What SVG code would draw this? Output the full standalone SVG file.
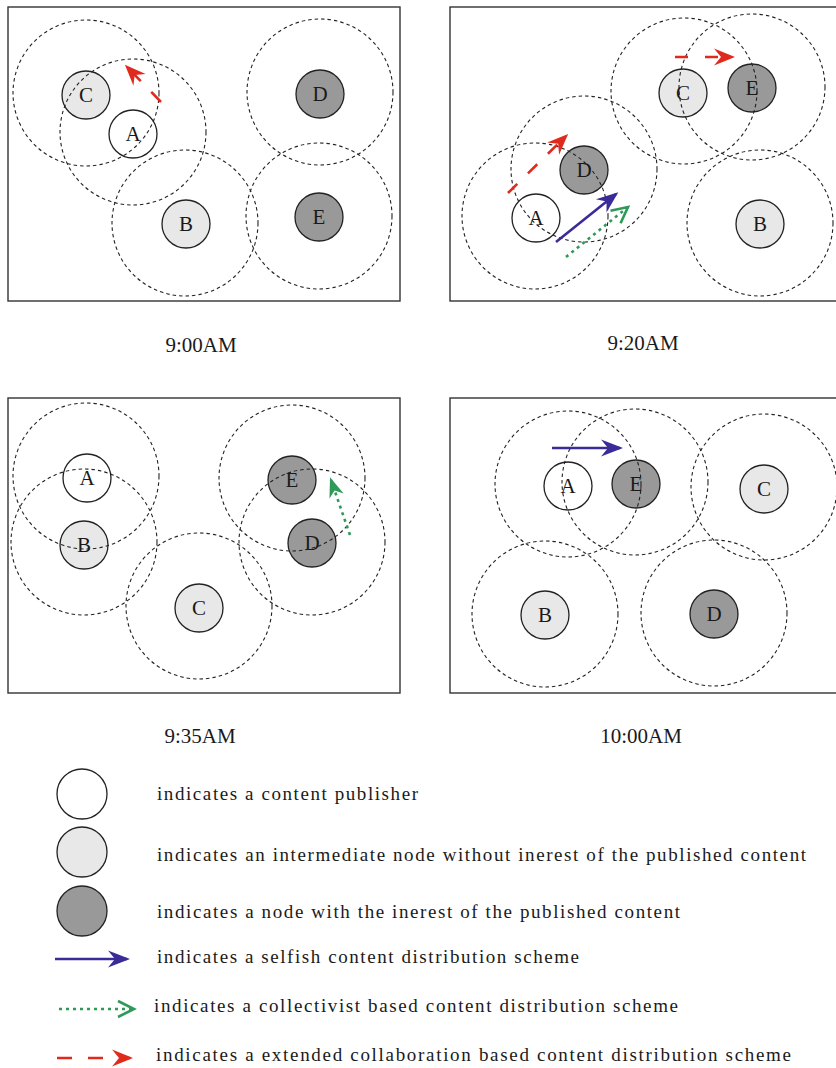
<svg xmlns="http://www.w3.org/2000/svg" width="836" height="1068" viewBox="0 0 836 1068">
  <style>
    .frame { fill: none; stroke: #333; stroke-width: 1.4; }
    .node { stroke: #222; stroke-width: 1.3; }
    .pub { fill: #ffffff; }
    .mid { fill: #e8e8e8; }
    .int { fill: #999999; }
    .range { fill: none; stroke: #222; stroke-width: 1.1; stroke-dasharray: 3.5 3; }
    .lbl { font-family: "Liberation Serif", "Times New Roman", serif; font-size: 21px; fill: #1a1a1a; text-anchor: middle; }
    .time { font-family: "Liberation Serif", "Times New Roman", serif; font-size: 21px; fill: #1a1a1a; text-anchor: middle; }
    .leg { font-family: "Liberation Serif", "Times New Roman", serif; font-size: 19px; fill: #1a1a1a; }
    .selfish { stroke: #3a2c98; stroke-width: 2.6; fill: none; }
    .collect { stroke: #2f9a58; stroke-width: 2.6; fill: none; stroke-dasharray: 3 4; }
    .extend { stroke: #e02a1e; stroke-width: 2.6; fill: none; }
  </style>
  <defs>
    <marker id="head-blue" markerUnits="userSpaceOnUse" orient="auto" refX="0" refY="0" markerWidth="30" markerHeight="30" overflow="visible">
      <path d="M3,0 L-19,-8.5 L-12,0 L-19,8.5 Z" fill="#3a2c98"/>
    </marker>
    <marker id="head-red" markerUnits="userSpaceOnUse" orient="auto" refX="0" refY="0" markerWidth="30" markerHeight="30" overflow="visible">
      <path d="M3,0 L-18,-8.5 L-11,0 L-18,8.5 Z" fill="#e02a1e"/>
    </marker>
    <marker id="head-green" markerUnits="userSpaceOnUse" orient="auto" refX="0" refY="0" markerWidth="30" markerHeight="30" overflow="visible">
      <polyline points="-16,-8 0,0 -16,8" fill="none" stroke="#2f9a58" stroke-width="2.6" stroke-dasharray="none"/>
    </marker>
    <marker id="head-green-solid" markerUnits="userSpaceOnUse" orient="auto" refX="0" refY="0" markerWidth="30" markerHeight="30" overflow="visible">
      <path d="M3,0 L-17,-7.5 L-11,0 L-17,7.5 Z" fill="#2f9a58"/>
    </marker>
  </defs>

  <rect width="836" height="1068" fill="#ffffff"/>

  <!-- ===== 9:00AM ===== -->
  <g id="panel-0900">
    <rect class="frame" x="8" y="7" width="392" height="294"/>
    <g id="p1-C"><circle class="node mid" cx="86" cy="95" r="24"/><text class="lbl" x="86" y="102">C</text></g>
    <g id="p1-A"><circle class="node pub" cx="133" cy="134" r="24"/><text class="lbl" x="133" y="141">A</text></g>
    <g id="p1-B"><circle class="node mid" cx="186" cy="224" r="24"/><text class="lbl" x="186" y="231">B</text></g>
    <g id="p1-D"><circle class="node int" cx="320" cy="94" r="24"/><text class="lbl" x="320" y="101">D</text></g>
    <g id="p1-E"><circle class="node int" cx="319" cy="217" r="24"/><text class="lbl" x="319" y="224">E</text></g>
    <g id="p1-ranges">
      <circle class="range" cx="86" cy="93" r="73"/>
      <circle class="range" cx="133" cy="132" r="73"/>
      <circle class="range" cx="185" cy="223" r="73"/>
      <circle class="range" cx="320" cy="92" r="73"/>
      <circle class="range" cx="319" cy="216" r="73"/>
    </g>
    <text class="time" x="201" y="352">9:00AM</text>
  </g>

  <!-- ===== 9:20AM ===== -->
  <g id="panel-0920">
    <rect class="frame" x="450" y="7" width="400" height="294"/>
    <g id="p2-C"><circle class="node mid" cx="683" cy="93" r="24"/><text class="lbl" x="683" y="100">C</text></g>
    <g id="p2-E"><circle class="node int" cx="752" cy="88" r="24"/><text class="lbl" x="752" y="95">E</text></g>
    <g id="p2-D"><circle class="node int" cx="584" cy="170" r="24"/><text class="lbl" x="584" y="177">D</text></g>
    <g id="p2-A"><circle class="node pub" cx="536" cy="218" r="24"/><text class="lbl" x="536" y="225">A</text></g>
    <g id="p2-B"><circle class="node mid" cx="760" cy="224" r="24"/><text class="lbl" x="760" y="231">B</text></g>
    <g id="p2-ranges">
      <circle class="range" cx="684" cy="91" r="73"/>
      <circle class="range" cx="752" cy="87" r="73"/>
      <circle class="range" cx="584" cy="169" r="73"/>
      <circle class="range" cx="535" cy="216" r="73"/>
      <circle class="range" cx="760" cy="223" r="73"/>
    </g>
    <text class="time" x="643" y="350">9:20AM</text>
  </g>

  <!-- ===== 9:35AM ===== -->
  <g id="panel-0935">
    <rect class="frame" x="8" y="398" width="392" height="295"/>
    <g id="p3-A"><circle class="node pub" cx="87" cy="478" r="24"/><text class="lbl" x="87" y="485">A</text></g>
    <g id="p3-B"><circle class="node mid" cx="84" cy="545" r="24"/><text class="lbl" x="84" y="552">B</text></g>
    <g id="p3-C"><circle class="node mid" cx="199" cy="608" r="24"/><text class="lbl" x="199" y="615">C</text></g>
    <g id="p3-E"><circle class="node int" cx="292" cy="480" r="24"/><text class="lbl" x="292" y="487">E</text></g>
    <g id="p3-D"><circle class="node int" cx="312" cy="543" r="24"/><text class="lbl" x="312" y="550">D</text></g>
    <g id="p3-ranges">
      <circle class="range" cx="86" cy="476" r="73"/>
      <circle class="range" cx="84" cy="542" r="73"/>
      <circle class="range" cx="199" cy="606" r="73"/>
      <circle class="range" cx="292" cy="478" r="73"/>
      <circle class="range" cx="312" cy="542" r="73"/>
    </g>
    <text class="time" x="200" y="743">9:35AM</text>
  </g>

  <!-- ===== 10:00AM ===== -->
  <g id="panel-1000">
    <rect class="frame" x="450" y="398" width="400" height="295"/>
    <g id="p4-A"><circle class="node pub" cx="568" cy="486" r="24"/><text class="lbl" x="568" y="493">A</text></g>
    <g id="p4-E"><circle class="node int" cx="636" cy="484" r="24"/><text class="lbl" x="636" y="491">E</text></g>
    <g id="p4-C"><circle class="node mid" cx="764" cy="489" r="24"/><text class="lbl" x="764" y="496">C</text></g>
    <g id="p4-B"><circle class="node mid" cx="545" cy="615" r="24"/><text class="lbl" x="545" y="622">B</text></g>
    <g id="p4-D"><circle class="node int" cx="714" cy="614" r="24"/><text class="lbl" x="714" y="621">D</text></g>
    <g id="p4-ranges">
      <circle class="range" cx="568" cy="484" r="73"/>
      <circle class="range" cx="635" cy="482" r="73"/>
      <circle class="range" cx="764" cy="487" r="73"/>
      <circle class="range" cx="545" cy="614" r="73"/>
      <circle class="range" cx="714" cy="613" r="73"/>
    </g>
    <text class="time" x="641" y="743">10:00AM</text>
  </g>

  <!-- content transfers -->
  <g id="connectors">
    <line class="extend" x1="161" y1="102" x2="127" y2="67" stroke-dasharray="14 15" marker-end="url(#head-red)"/>
    <line class="extend" x1="508" y1="193" x2="566" y2="136" stroke-dasharray="13 15" marker-end="url(#head-red)"/>
    <line class="extend" x1="675" y1="57" x2="732" y2="57" stroke-dasharray="13 17" marker-end="url(#head-red)"/>
    <line class="selfish" x1="556" y1="242" x2="616" y2="194" marker-end="url(#head-blue)"/>
    <line class="collect" x1="566" y1="257" x2="628" y2="207" marker-end="url(#head-green)"/>
    <line class="collect" x1="350" y1="535" x2="331" y2="480" marker-end="url(#head-green-solid)"/>
    <line class="selfish" x1="552" y1="448" x2="620" y2="448" marker-end="url(#head-blue)"/>
  </g>

  <!-- legend -->
  <g id="legend">
    <g id="legend-publisher"><circle class="node pub" cx="82" cy="794" r="25"/><text class="leg" x="157" y="800" textLength="261" lengthAdjust="spacing">indicates a content publisher</text></g>
    <g id="legend-intermediate"><circle class="node mid" cx="82" cy="852" r="25"/><text class="leg" x="157" y="861" textLength="649" lengthAdjust="spacing">indicates an intermediate node without inerest of the published content</text></g>
    <g id="legend-interested"><circle class="node int" cx="82" cy="911" r="25"/><text class="leg" x="157" y="918" textLength="523" lengthAdjust="spacing">indicates a node with the inerest of the published content</text></g>
    <g id="legend-selfish"><line class="selfish" x1="55" y1="959" x2="127" y2="959" marker-end="url(#head-blue)"/><text class="leg" x="157" y="963" textLength="422" lengthAdjust="spacing">indicates a selfish content distribution scheme</text></g>
    <g id="legend-collect"><line class="collect" x1="59" y1="1009" x2="134" y2="1009" marker-end="url(#head-green)"/><text class="leg" x="154" y="1012" textLength="524" lengthAdjust="spacing">indicates a collectivist based content distribution scheme</text></g>
    <g id="legend-extend"><line class="extend" x1="57" y1="1058" x2="130" y2="1058" stroke-dasharray="15 16" marker-end="url(#head-red)"/><text class="leg" x="156" y="1061" textLength="635" lengthAdjust="spacing">indicates a extended collaboration based content distribution scheme</text></g>
  </g>
</svg>
